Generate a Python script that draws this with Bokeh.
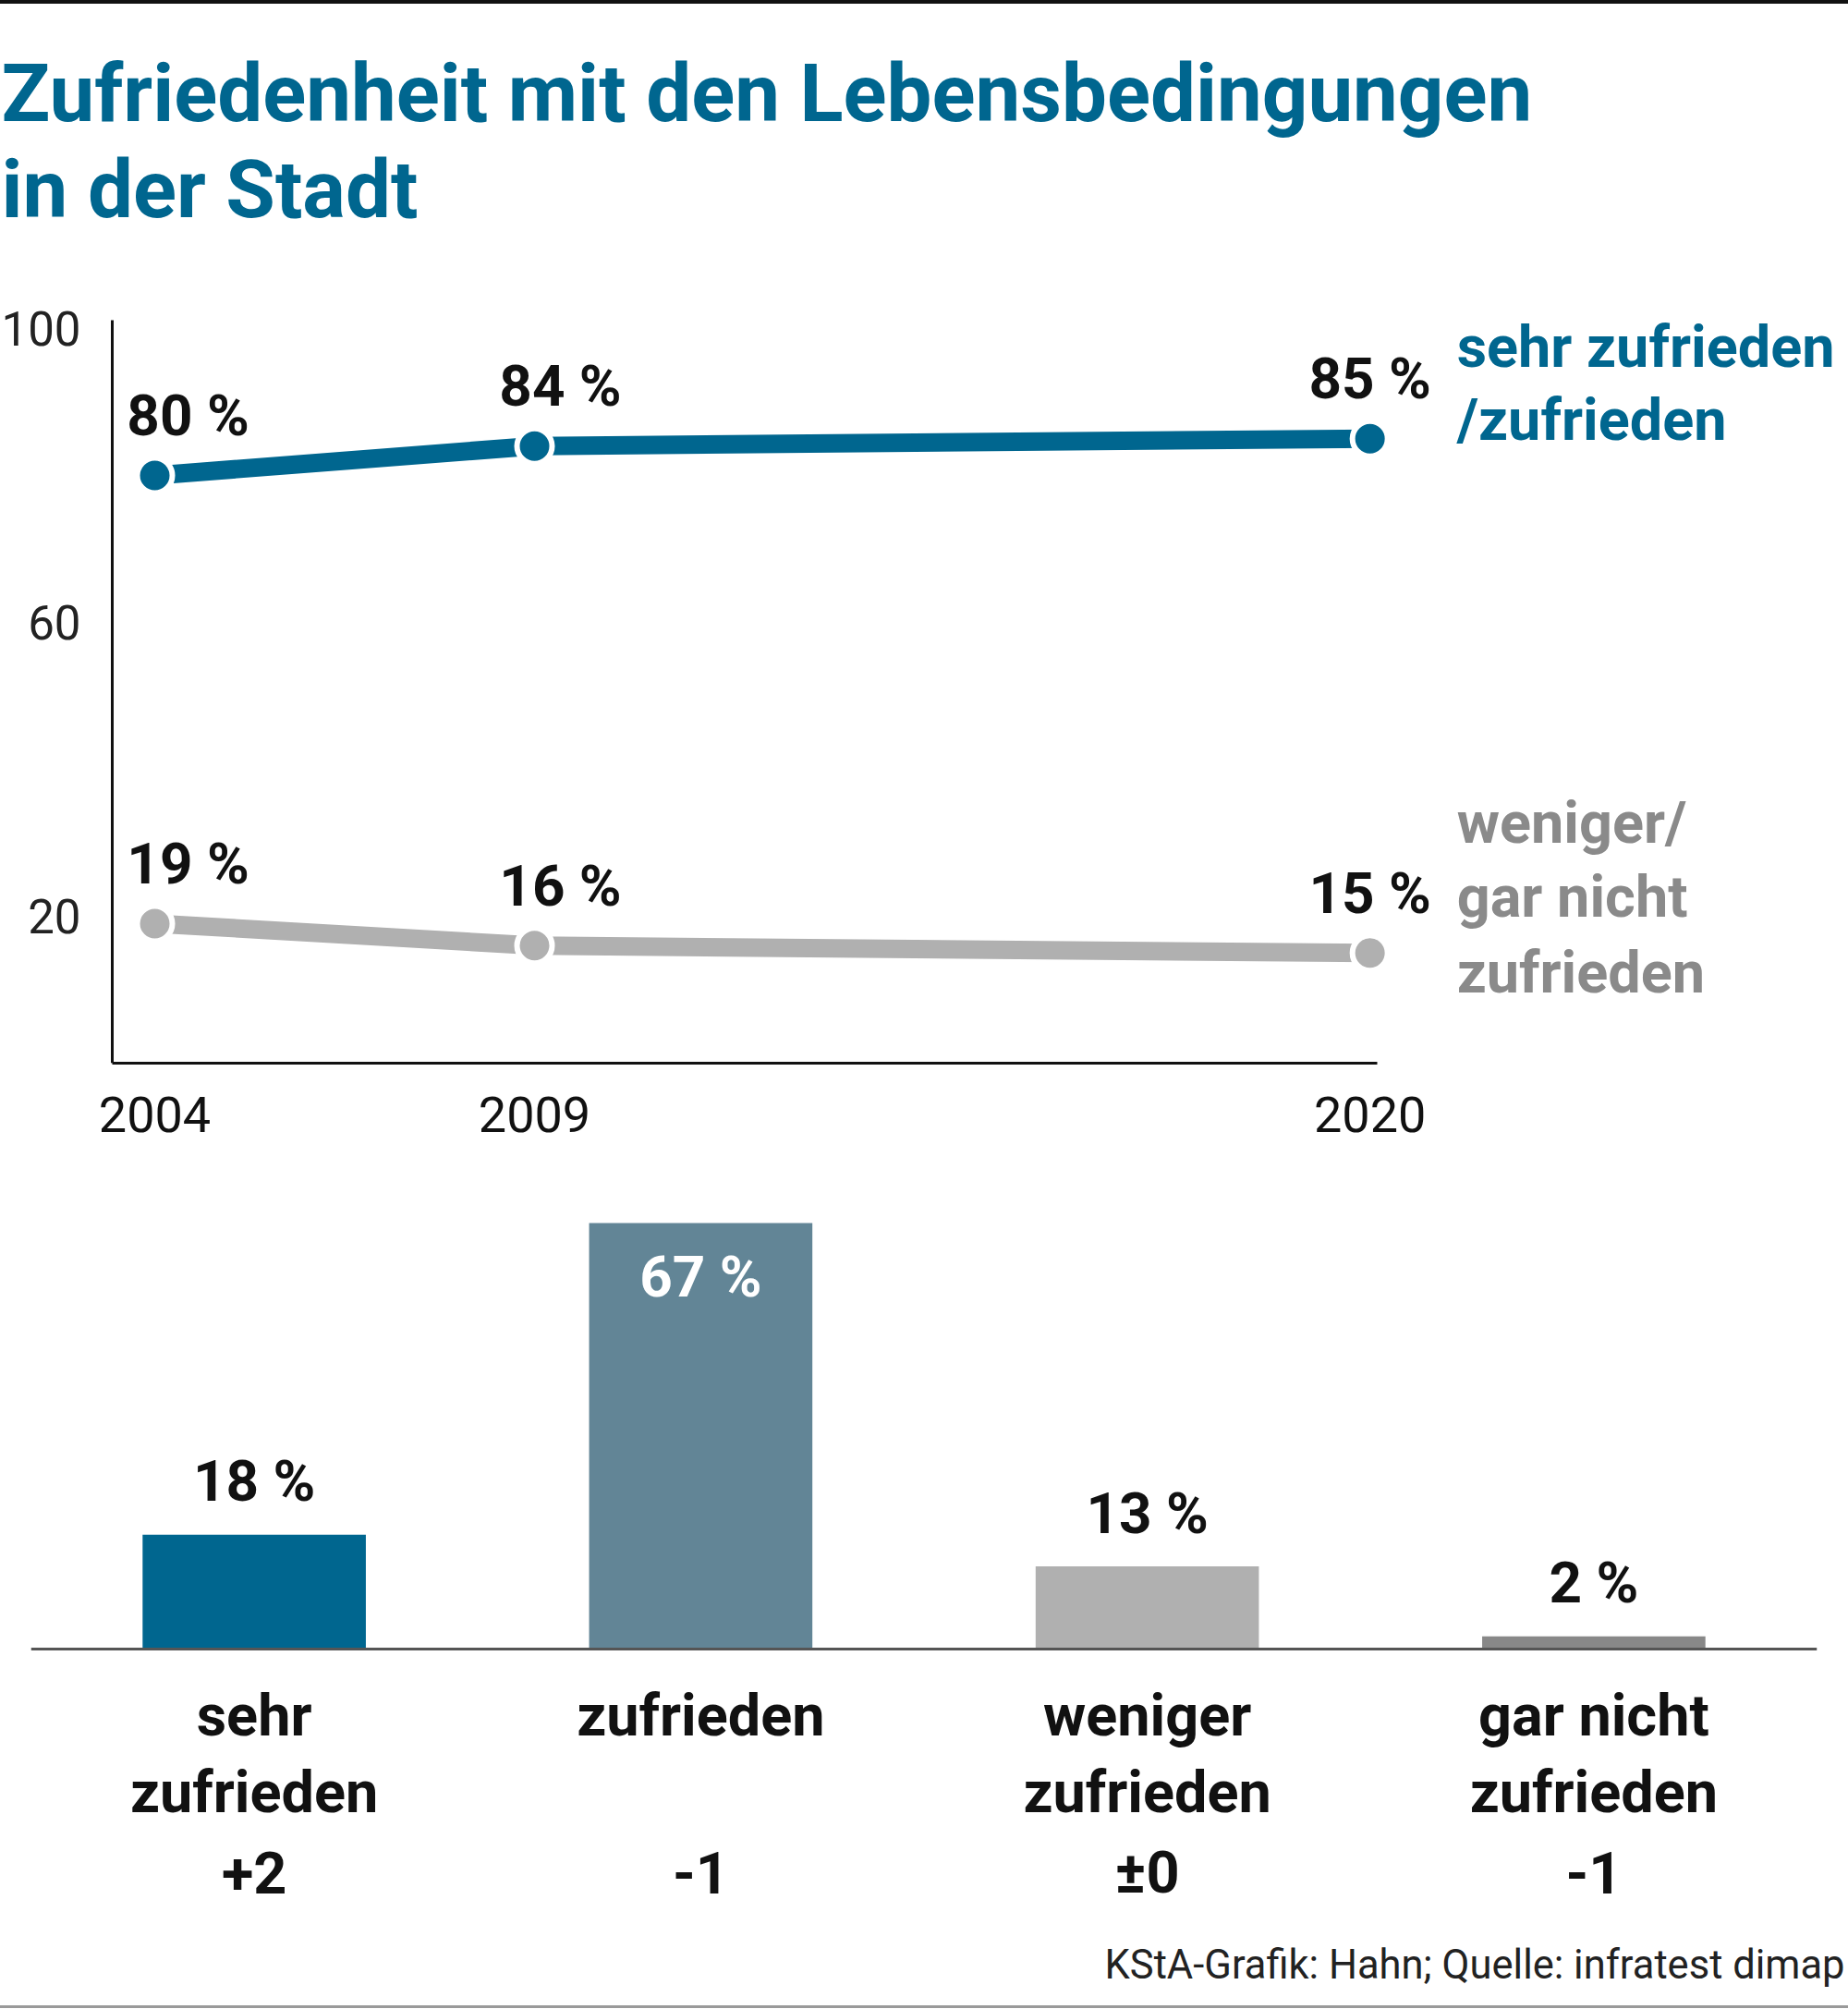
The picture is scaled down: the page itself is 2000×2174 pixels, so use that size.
from bokeh.plotting import figure
from bokeh.models import (ColumnDataSource, Range1d, FactorRange, FixedTicker, Title, Span, Div)
from bokeh.embed import file_html
from bokeh.resources import INLINE
from bokeh.core.properties import value

# --- survey data -------------------------------------------------------------
years = [2004, 2009, 2020]
satisfied = [80, 84, 85]          # sehr zufrieden / zufrieden
dissatisfied = [19, 16, 15]       # weniger / gar nicht zufrieden

categories = ["sehr zufrieden", "zufrieden", "weniger zufrieden", "gar nicht zufrieden"]
label_line1 = ["sehr", "zufrieden", "weniger", "gar nicht"]
label_line2 = ["zufrieden", "", "zufrieden", "zufrieden"]
shares = [18, 67, 13, 2]
changes = ["+2", "-1", "±0", "-1"]

y_ticks = [20, 60, 100]
headline = ["Zufriedenheit mit den Lebensbedingungen", "in der Stadt"]

# --- styling -----------------------------------------------------------------
BLUE = "#00668f"
SLATE = "#628596"
LIGHT_GREY = "#b0b0b0"
MID_GREY = "#888888"
LEGEND_GREY = "#8a8a8a"
INK = "#111111"
FONT = "Roboto"


def lift(size):
    # pixel lift so that an alphabetic baseline sits where intended
    return round(0.365 * size)


bar_colors = [BLUE, SLATE, LIGHT_GREY, MID_GREY]

# --- line chart: development over time ---------------------------------------
x_start, x_end = 2001.968, 2026.30
y_end = 144.15
p1 = figure(width=2000, height=1256,
            x_range=Range1d(x_start, x_end), y_range=Range1d(0, y_end),
            output_backend="svg", toolbar_location=None,
            min_border_left=0, min_border_right=0,
            min_border_top=0, min_border_bottom=110)
p1.grid.visible = False
p1.outline_line_color = None
p1.background_fill_color = "white"
p1.border_fill_color = "white"

# headline, anchored at the top-left corner of the plotting area
hsrc = ColumnDataSource(dict(x=[x_start] * 2, y=[y_end] * 2, t=headline,
                             dy=[128 - lift(87), 232 - lift(87)]))
p1.text("x", "y", text="t", source=hsrc, x_offset=1, y_offset="dy",
        text_align="left", text_baseline="alphabetic",
        text_font=value(FONT), text_font_style="bold", text_font_size="87px",
        text_color=BLUE)

xa = p1.xaxis[0]
xa.ticker = FixedTicker(ticks=years)
xa.bounds = (2003.44, 2020.1)
xa.axis_line_color = INK
xa.axis_line_width = 3
xa.major_tick_line_color = None
xa.minor_tick_line_color = None
xa.major_label_standoff = 30
xa.major_label_text_font = FONT
xa.major_label_text_font_size = "54px"
xa.major_label_text_color = INK

ya = p1.yaxis[0]
ya.fixed_location = 2003.44
ya.bounds = (0, 101.1)
ya.ticker = FixedTicker(ticks=y_ticks)
ya.axis_line_color = INK
ya.axis_line_width = 3
ya.major_tick_line_color = None
ya.minor_tick_line_color = None
ya.major_label_standoff = 28
ya.major_label_text_font = FONT
ya.major_label_text_font_size = "51px"
ya.major_label_text_color = "#222222"

series = [(satisfied, BLUE, ["sehr zufrieden", "/zufrieden"], [-76, 3], BLUE),
          (dissatisfied, LIGHT_GREY, ["weniger/", "gar nicht", "zufrieden"], [-118, -38, 44],
           LEGEND_GREY)]
label_dx = [36, 28, 0]

for vals, col, names, name_dy, name_col in series:
    src = ColumnDataSource(dict(x=years, y=vals, lab=[f"{v} %" for v in vals], dx=label_dx))
    p1.line("x", "y", source=src, line_color=col, line_width=20, line_cap="butt")
    p1.scatter("x", "y", source=src, size=38, fill_color=col, line_color="white", line_width=6)
    p1.text("x", "y", text="lab", source=src, x_offset="dx", y_offset=-42 - lift(62),
            text_align="center", text_baseline="alphabetic",
            text_font=value(FONT), text_font_style="bold", text_font_size="62px",
            text_color=INK)
    # series name next to the latest value
    nsrc = ColumnDataSource(dict(x=[years[-1]] * len(names), y=[vals[-1]] * len(names),
                                 t=names, dy=[d - lift(63) for d in name_dy]))
    p1.text("x", "y", text="t", source=nsrc, x_offset=94, y_offset="dy",
            text_align="left", text_baseline="alphabetic",
            text_font=value(FONT), text_font_style="bold", text_font_size="63px",
            text_color=name_col)

# --- bar chart: current distribution ------------------------------------------
p2 = figure(width=2000, height=910,
            x_range=FactorRange(*categories), y_range=Range1d(-44.48, 70.35),
            output_backend="svg", toolbar_location=None,
            x_axis_location=None, y_axis_location=None,
            min_border_left=33, min_border_right=34,
            min_border_top=40, min_border_bottom=80)
p2.grid.visible = False
p2.outline_line_color = None
p2.background_fill_color = "white"
p2.border_fill_color = "white"

bsrc = ColumnDataSource(dict(
    cat=categories, share=shares, color=bar_colors,
    lab=[f"{v} %" for v in shares],
    lab_color=["white" if v > 50 else INK for v in shares],
    lab_dy=[(81 if v > 50 else -35) - lift(62) for v in shares],
    zero=[0] * len(categories),
    line1=label_line1, line2=label_line2, change=changes,
))
p2.vbar(x="cat", top="share", width=0.5, source=bsrc, fill_color="color", line_color=None)
p2.text("cat", "share", text="lab", source=bsrc, y_offset="lab_dy",
        text_align="center", text_baseline="alphabetic",
        text_font=value(FONT), text_font_style="bold", text_font_size="62px",
        text_color="lab_color")

# zero line under the bars
p2.add_layout(Span(location=0, dimension="width", line_color="#555555", line_width=3))

# category names and change versus the previous survey, below the zero line
for field, dy in (("line1", 95), ("line2", 178), ("change", 265)):
    p2.text("cat", "zero", text=field, source=bsrc, y_offset=dy - lift(63),
            text_align="center", text_baseline="alphabetic",
            text_font=value(FONT), text_font_style="bold", text_font_size="63px",
            text_color=INK)

source_note = Title(text="KStA-Grafik: Hahn; Quelle: infratest dimap",
                    align="right", offset=-30, standoff=17,
                    text_font=FONT, text_font_style="normal", text_font_size="43.5px",
                    text_color="#222222")
p2.add_layout(source_note, "below")

top_rule = Div(width=2000, height=4, margin=0, styles={"background-color": "#111111"})
bottom_rule = Div(width=2000, height=3, margin=0, styles={"background-color": "#9a9a9a"})

open("out.html", "w").write(file_html([top_rule, p1, p2, bottom_rule], INLINE))
